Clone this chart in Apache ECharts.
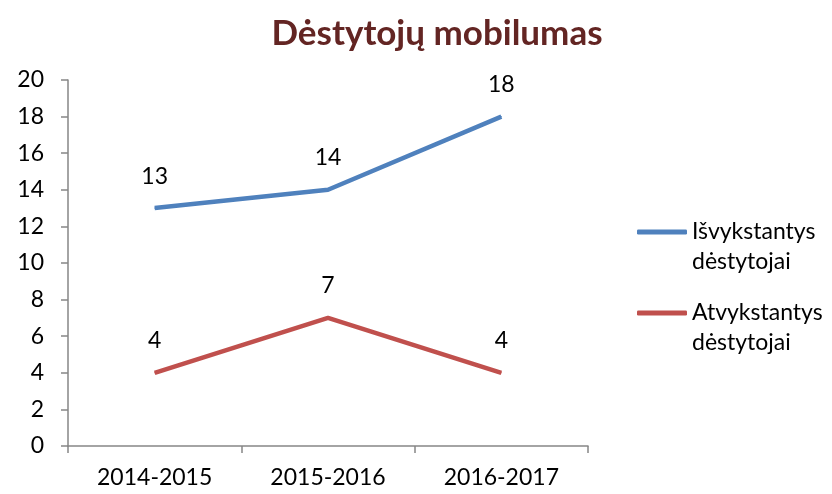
<!DOCTYPE html>
<html lang="lt">
<head>
<meta charset="UTF-8">
<title>Dėstytojų mobilumas</title>
<script src="https://cdn.jsdelivr.net/npm/echarts@6/dist/echarts.min.js"></script>
<style>
  html, body { margin: 0; padding: 0; background: #fff; }
</style>
</head>
<body>
<div id="chart" style="width: 832px; height: 494px;"></div>
<script>
  // data
  const years = ['2014-2015', '2015-2016', '2016-2017'];
  const seriesNames = ['Išvykstantys dėstytojai', 'Atvykstantys dėstytojai'];
  const outgoing = [13, 14, 18];
  const incoming = [4, 7, 4];
  const colors = ['#4F81BD', '#C0504D'];

  const font = 'Lato, "Open Sans", sans-serif';

  function lineSeries(name, data, color) {
    return {
      name: name,
      type: 'line',
      data: data,
      // tiny symbol so the value labels are drawn; it hides under the line
      symbol: 'circle',
      symbolSize: 1,
      lineStyle: { color: color, width: 4.5 },
      itemStyle: { color: color },
      label: {
        show: true,
        position: 'top',
        distance: 20,
        color: '#000',
        fontSize: 23,
        fontFamily: font
      }
    };
  }

  const chart = echarts.init(document.getElementById('chart'));
  chart.setOption({
    animation: false,
    title: {
      text: 'Dėstytojų mobilumas',
      left: 432,
      top: 11,
      textAlign: 'center',
      textStyle: { color: '#632523', fontSize: 35, fontWeight: 'bold', fontFamily: font }
    },
    legend: {
      orient: 'vertical',
      left: 632,
      top: 182,
      itemWidth: 50,
      itemHeight: 5,
      itemGap: -9,
      icon: 'roundRect',
      data: seriesNames,
      // empty first line so the icon sits beside the first text line
      formatter: name => '\n' + name.replace(' ', '\n'),
      textStyle: { fontSize: 23, lineHeight: 30, color: '#000', fontFamily: font }
    },
    grid: { left: 68, right: 244, top: 80, bottom: 48 },
    xAxis: {
      type: 'category',
      data: years,
      boundaryGap: true,
      axisLine: { lineStyle: { color: '#868686', width: 1.5 } },
      axisTick: { show: true, length: 7, lineStyle: { color: '#868686', width: 1.5 } },
      axisLabel: { color: '#000', fontSize: 23, margin: 20, fontFamily: font }
    },
    yAxis: {
      type: 'value',
      min: 0,
      max: 20,
      interval: 2,
      splitLine: { show: false },
      axisLine: { show: true, lineStyle: { color: '#868686', width: 1.5 } },
      axisTick: { show: true, length: 7, lineStyle: { color: '#868686', width: 1.5 } },
      axisLabel: { color: '#000', fontSize: 23, margin: 24, fontFamily: font }
    },
    series: [
      lineSeries(seriesNames[0], outgoing, colors[0]),
      lineSeries(seriesNames[1], incoming, colors[1])
    ]
  });
</script>
</body>
</html>
